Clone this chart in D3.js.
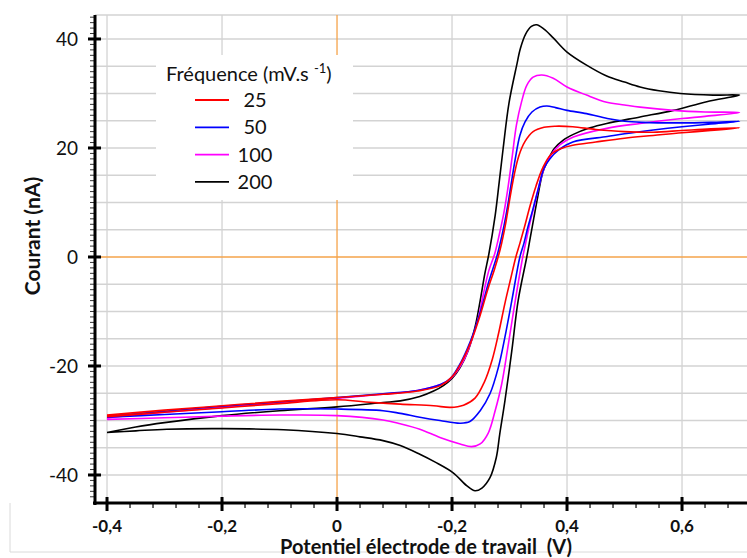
<!DOCTYPE html>
<html><head><meta charset="utf-8">
<script src="https://cdn.jsdelivr.net/npm/d3@7"></script>
<style>
body{margin:0;background:#fff}
svg{display:block}
text{font-family:Lato,"Open Sans",sans-serif;fill:#111}
</style>
</head><body><svg id="c" width="747" height="558"></svg>
<script>
// ---------- data ----------
const potentialTicks = [-0.4, -0.2, 0, 0.2, 0.4, 0.6];
const potentialTickLabels = ["-0,4", "-0,2", "0", "-0,2", "0,4", "0,6"];
const currentTicks = [-40, -20, 0, 20, 40];
const currentTickLabels = ["-40", "-20", "0", "20", "40"];
const frequencies = ["25", "50", "100", "200"];
const legendTitle = "Fréquence (mV.s";
const xTitle = "Potentiel électrode de travail\u00a0 (V)";
const yTitle = "Courant (nA)";

// [potential (V), current (nA)] in scan order
const scan25 = [
 [-0.40,-29.0],[-0.30,-28.1],[-0.20,-27.3],[-0.10,-26.5],[0.00,-25.8],[0.08,-25.2],[0.14,-24.6],[0.18,-23.6],
 [0.20,-22.0],[0.215,-19.6],[0.232,-15.8],[0.248,-11.0],[0.262,-6.0],[0.274,-2.2],[0.284,1.5],[0.293,6.0],
 [0.301,11.0],[0.308,15.0],[0.316,18.5],[0.327,21.2],[0.341,23.0],[0.36,23.8],[0.38,24.0],[0.41,23.9],
 [0.45,23.4],[0.50,23.0],[0.55,22.9],[0.60,23.2],[0.65,23.5],[0.70,23.7],
 [0.65,23.2],[0.60,22.8],[0.55,22.3],[0.50,21.8],[0.45,21.1],[0.41,20.5],[0.39,19.9],[0.372,18.8],
 [0.358,16.4],[0.346,13.0],[0.336,9.5],[0.326,5.5],[0.318,2.5],[0.311,0.0],[0.302,-4.0],[0.292,-8.5],
 [0.281,-14.0],[0.27,-18.8],[0.256,-23.0],[0.24,-25.9],[0.22,-27.2],[0.197,-27.6],[0.168,-27.3],[0.11,-27.0],
 [0.05,-26.6],[0.00,-26.2],[-0.10,-26.9],[-0.20,-27.7],[-0.30,-28.5],[-0.40,-29.3]
];
const scan50 = [
 [-0.40,-29.2],[-0.30,-28.3],[-0.20,-27.4],[-0.10,-26.6],[0.00,-25.8],[0.08,-25.1],[0.14,-24.5],[0.18,-23.4],
 [0.197,-22.3],[0.212,-20.0],[0.226,-17.0],[0.239,-13.5],[0.251,-9.5],[0.264,-4.5],[0.279,0.5],[0.289,5.0],
 [0.297,9.5],[0.303,13.5],[0.31,18.0],[0.318,22.3],[0.327,24.8],[0.339,26.6],[0.353,27.5],[0.365,27.7],
 [0.38,27.4],[0.40,26.9],[0.434,26.3],[0.47,25.4],[0.50,24.9],[0.53,24.7],[0.60,24.6],[0.65,24.7],[0.70,24.9],
 [0.65,24.4],[0.60,23.9],[0.55,23.3],[0.50,22.6],[0.47,22.1],[0.41,21.1],[0.385,19.6],[0.37,18.0],[0.36,16.3],
 [0.35,12.5],[0.34,8.5],[0.332,5.5],[0.325,2.5],[0.318,0.0],[0.304,-8.0],[0.292,-14.7],[0.2805,-20.3],
 [0.266,-25.1],[0.249,-28.2],[0.231,-30.2],[0.214,-30.5],[0.179,-30.0],[0.144,-29.4],[0.11,-28.7],[0.08,-28.2],
 [0.00,-27.9],[-0.10,-27.9],[-0.20,-28.4],[-0.30,-28.9],[-0.40,-29.4]
];
const scan100 = [
 [-0.40,-29.5],[-0.30,-28.5],[-0.20,-27.6],[-0.10,-26.7],[0.00,-25.9],[0.08,-25.2],[0.14,-24.5],[0.18,-23.4],
 [0.197,-22.4],[0.22,-19.0],[0.234,-15.3],[0.246,-11.1],[0.2545,-6.8],[0.264,-2.5],[0.274,0.5],[0.283,4.5],
 [0.29,8.0],[0.297,12.5],[0.305,18.7],[0.312,24.2],[0.321,28.5],[0.33,31.5],[0.341,33.0],[0.356,33.4],
 [0.376,32.8],[0.40,31.2],[0.434,29.7],[0.469,28.4],[0.50,27.9],[0.527,27.5],[0.585,26.9],[0.64,26.6],[0.70,26.5],
 [0.64,25.8],[0.60,25.4],[0.527,24.5],[0.469,23.6],[0.411,22.0],[0.388,20.6],[0.372,18.7],[0.36,16.2],
 [0.35,12.5],[0.342,9.0],[0.336,6.5],[0.329,3.0],[0.323,0.0],[0.31,-8.0],[0.298,-16.0],[0.2864,-23.3],
 [0.275,-28.2],[0.263,-32.3],[0.249,-34.3],[0.234,-34.8],[0.214,-34.3],[0.179,-33.1],[0.144,-31.6],[0.11,-30.6],
 [0.08,-29.9],[0.00,-29.1],[-0.10,-29.0],[-0.20,-29.2],[-0.30,-29.5],[-0.40,-29.8]
];
const scan200 = [
 [-0.40,-32.2],[-0.35,-31.2],[-0.30,-30.4],[-0.20,-29.1],[-0.10,-28.2],[0.00,-27.5],[0.08,-26.7],[0.11,-26.4],
 [0.144,-25.6],[0.168,-24.6],[0.185,-23.6],[0.20,-22.3],[0.214,-20.3],[0.228,-17.2],[0.24,-12.9],[0.249,-8.0],
 [0.257,-3.1],[0.264,0.5],[0.275,7.6],[0.282,13.7],[0.289,20.0],[0.299,28.2],[0.3125,35.2],[0.319,38.3],
 [0.328,40.9],[0.338,42.3],[0.347,42.6],[0.36,41.8],[0.376,40.2],[0.40,37.6],[0.434,35.2],[0.469,33.2],
 [0.50,32.1],[0.527,31.2],[0.56,30.5],[0.597,30.0],[0.654,29.7],[0.70,29.7],
 [0.643,28.5],[0.585,26.9],[0.527,25.7],[0.469,24.5],[0.44,23.7],[0.411,22.5],[0.394,21.5],[0.378,19.9],
 [0.366,17.6],[0.358,15.6],[0.349,11.0],[0.342,7.0],[0.336,3.5],[0.330,0.0],[0.315,-8.0],[0.304,-17.2],
 [0.292,-26.4],[0.283,-32.5],[0.277,-36.8],[0.266,-40.5],[0.252,-42.4],[0.24,-42.9],[0.226,-42.0],[0.202,-39.6],
 [0.17,-37.6],[0.144,-36.2],[0.11,-34.6],[0.08,-33.7],[0.04,-33.0],[0.00,-32.4],[-0.093,-31.7],[-0.198,-31.5],
 [-0.296,-31.6],[-0.35,-31.9],[-0.40,-32.2]
];
const scans = [scan25, scan50, scan100, scan200];

// ---------- styles / layout ----------
const colors = ["#ff0000", "#0000ff", "#ff00ff", "#000000"];
const plot = {left: 95, top: 15, right: 747, bottom: 503};

const svg = d3.select("#c");
const x = d3.scaleLinear().domain([-0.4209, 0.7130]).range([plot.left, plot.right]);
const y = d3.scaleLinear().domain([44.4, -45.14]).range([plot.top, plot.bottom]);

// faint outer frame
svg.append("path").attr("d", `M10,${plot.bottom}V552H747`).attr("fill","none").attr("stroke","#dadada").attr("stroke-width",1);

// grid
const grid = svg.append("g").attr("stroke","#d3d3d3").attr("stroke-width",1.3);
d3.range(-40, 45, 5).filter(v => v !== 0).forEach(v => {
  grid.append("line").attr("x1",plot.left).attr("x2",plot.right).attr("y1",y(v)).attr("y2",y(v));
});
grid.append("line").attr("x1",plot.left).attr("x2",plot.right).attr("y1",plot.top).attr("y2",plot.top);
potentialTicks.filter(v => v !== 0).forEach(v => {
  grid.append("line").attr("x1",x(v)).attr("x2",x(v)).attr("y1",plot.top).attr("y2",plot.bottom);
});
// zero lines
svg.append("line").attr("x1",plot.left).attr("x2",plot.right).attr("y1",y(0)).attr("y2",y(0))
  .attr("stroke","#f5a34a").attr("stroke-width",1.3);
svg.append("line").attr("x1",x(0)).attr("x2",x(0)).attr("y1",plot.top).attr("y2",plot.bottom)
  .attr("stroke","#f5a34a").attr("stroke-width",1.3);

// legend background
svg.append("rect").attr("x",156).attr("y",55).attr("width",197).attr("height",145).attr("fill","#fff");

// curves
const line = d3.line().x(d => x(d[0])).y(d => y(d[1])).curve(d3.curveCatmullRom.alpha(0.5));
[3,2,1,0].forEach(k => {
  svg.append("path").attr("d", line(scans[k])).attr("fill","none")
    .attr("stroke", colors[k]).attr("stroke-width",1.6).attr("stroke-linejoin","round");
});

// axes
const ax = svg.append("g").attr("stroke","#000");
ax.append("line").attr("x1",plot.left).attr("x2",plot.left).attr("y1",plot.top).attr("y2",plot.bottom+2).attr("stroke-width",3);
ax.append("line").attr("x1",plot.left-2).attr("x2",plot.right).attr("y1",plot.bottom).attr("y2",plot.bottom).attr("stroke-width",3);
// y minor ticks
d3.range(-45, 45, 1).filter(v => v % 20 !== 0 && y(v) > plot.top + 2 && y(v) < plot.bottom - 2).forEach(v => {
  ax.append("line").attr("x1",plot.left-5).attr("x2",plot.left).attr("y1",y(v)).attr("y2",y(v)).attr("stroke-width",0.8);
});
currentTicks.forEach(v => {
  ax.append("line").attr("x1",plot.left-7).attr("x2",plot.left+6).attr("y1",y(v)).attr("y2",y(v)).attr("stroke-width",3);
});
// x minor ticks
d3.range(-0.4, 0.71, 0.04).forEach(v => {
  ax.append("line").attr("x1",x(v)).attr("x2",x(v)).attr("y1",plot.bottom).attr("y2",plot.bottom+5).attr("stroke-width",1.2);
});
potentialTicks.forEach(v => {
  ax.append("line").attr("x1",x(v)).attr("x2",x(v)).attr("y1",plot.bottom-6).attr("y2",plot.bottom+8).attr("stroke-width",3);
});

// tick labels
currentTicks.forEach((v,i) => {
  svg.append("text").attr("x",78).attr("y",y(v)+7).attr("text-anchor","end")
    .attr("font-size",19).text(currentTickLabels[i]);
});
potentialTicks.forEach((v,i) => {
  svg.append("text").attr("x",x(v)).attr("y",532).attr("text-anchor","middle")
    .attr("font-size",17).attr("font-weight","bold").text(potentialTickLabels[i]);
});

// axis titles
svg.append("text").attr("transform","translate(40,236) rotate(-90)").attr("text-anchor","middle")
  .attr("font-size",21).attr("font-weight","bold").text(yTitle);
svg.append("text").attr("x",426).attr("y",554).attr("text-anchor","middle")
  .attr("font-size",20).attr("font-weight","bold").text(xTitle);

// legend
const lt = svg.append("text").attr("x",166).attr("y",81).attr("font-size",20);
lt.append("tspan").text(legendTitle + " ");
lt.append("tspan").attr("font-size",13).attr("dy",-8).text("-1");
lt.append("tspan").attr("dy",8).text(")");
frequencies.forEach((f,i) => {
  const yy = 100 + i*27.3;
  svg.append("line").attr("x1",195).attr("x2",229).attr("y1",yy).attr("y2",yy)
    .attr("stroke",colors[i]).attr("stroke-width",1.8);
  svg.append("text").attr("x",255).attr("y",yy+7).attr("text-anchor","middle").attr("font-size",20).text(f);
});
</script>
</body></html>
